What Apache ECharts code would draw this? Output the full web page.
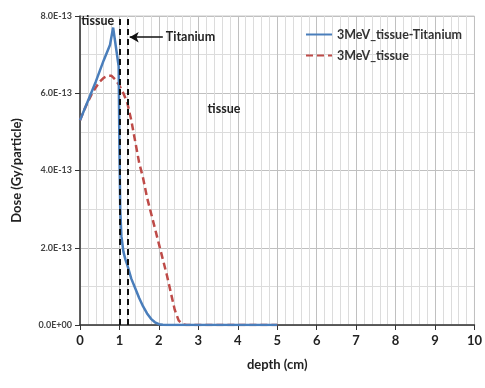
<!DOCTYPE html>
<html><head><meta charset="utf-8">
<script src="https://cdn.jsdelivr.net/npm/echarts@6/dist/echarts.min.js"></script>
<style>html,body{margin:0;padding:0;background:#fff}#c{width:485px;height:388px}</style>
</head><body><div id="c"></div>
<script>
// dose values in units of 1E-13 Gy/particle
var seriesNames = ['3MeV_tissue-Titanium', '3MeV_tissue'];
var tiDepth = [0,0.2,0.4,0.6,0.76,0.84,0.98,1.0,1.02,1.05,1.1,1.15,1.2,1.3,1.4,1.5,1.6,1.7,1.8,1.9,2.0,2.1,2.2,2.5,3,4,5];
var tiDose  = [5.3,5.8,6.3,6.85,7.25,7.7,6.7,4.5,3.0,2.3,1.9,1.7,1.55,1.2,0.95,0.7,0.48,0.3,0.16,0.07,0.02,0.005,0,0,0,0,0];
var tsDepth = [0,0.1,0.2,0.3,0.4,0.5,0.6,0.7,0.8,0.9,1.0,1.1,1.2,1.3,1.4,1.5,1.6,1.7,1.8,1.9,2.0,2.1,2.2,2.3,2.4,2.5,2.6,2.7,3,4,5];
var tsDose  = [5.3,5.55,5.78,5.98,6.15,6.3,6.4,6.45,6.45,6.35,6.2,6.0,5.75,5.3,4.75,4.2,3.8,3.3,2.9,2.5,2.1,1.7,1.3,0.85,0.4,0.12,0.02,0,0,0,0];
var interfaces = [1.0, 1.2];
var annotations = [
  {text:'tissue', x:0.45, y:7.88},
  {text:'tissue', x:3.65, y:5.6}
];
var titaniumLabel = {text:'Titanium', x:2.8, y:7.45};
var arrow = {from:[1.26,7.45], to:[2.1,7.45]};

function pairs(a,b){return a.map(function(v,i){return [v,b[i]];});}
var fam = 'Lato, "Open Sans", sans-serif';
var chart = echarts.init(document.getElementById('c'), null, {renderer:'canvas'});
chart.setOption({
  animation:false,
  backgroundColor:'#fff',
  grid:{left:80, right:10, top:16, bottom:63, show:true, borderColor:'#c8c8c8', borderWidth:1},
  legend:{
    orient:'vertical', left:300, top:23, itemWidth:26, itemHeight:12, itemGap:8,
    itemStyle:{opacity:0},
    textStyle:{fontFamily:fam, fontWeight:'bold', fontSize:12.5, color:'#333'},
    data:seriesNames
  },
  xAxis:{
    type:'value', min:0, max:10, interval:1,
    name:'depth (cm)', nameLocation:'middle', nameGap:33,
    nameTextStyle:{fontFamily:fam, fontWeight:'bold', fontSize:13, color:'#222'},
    axisLine:{show:true, onZero:false, lineStyle:{color:'#333', width:1.5}},
    axisTick:{show:true, length:5, lineStyle:{color:'#333'}},
    axisLabel:{fontFamily:fam, fontWeight:'bold', fontSize:13, color:'#222', margin:9},
    splitLine:{show:true, lineStyle:{color:'#c0c0c0', width:1}},
    minorTick:{show:false, splitNumber:5},
    minorSplitLine:{show:true, lineStyle:{color:'#dcdcdc', width:1}}
  },
  yAxis:{
    type:'value', min:0, max:8, interval:2,
    name:'Dose (Gy/particle)', nameLocation:'middle', nameGap:57,
    nameTextStyle:{fontFamily:fam, fontWeight:'bold', fontSize:13, color:'#222'},
    axisLine:{show:true, lineStyle:{color:'#333', width:1.5}},
    axisTick:{show:true, length:5, lineStyle:{color:'#333'}},
    axisLabel:{fontFamily:fam, fontWeight:'bold', fontSize:9, color:'#444', margin:8,
      formatter:function(v){ return v===0 ? '0.0E+00' : v.toFixed(1)+'E-13'; }},
    splitLine:{show:true, lineStyle:{color:'#c0c0c0', width:1}},
    minorTick:{show:false, splitNumber:2},
    minorSplitLine:{show:true, lineStyle:{color:'#dcdcdc', width:1}}
  },
  series:[
    {
      name:seriesNames[0], type:'line', data:pairs(tiDepth,tiDose), showSymbol:false, symbol:'none',
      lineStyle:{color:'#4a7ebb', width:2.5}, itemStyle:{color:'#4a7ebb'}, z:3,
      markLine:{
        silent:true, symbol:['none','none'], label:{show:false},
        lineStyle:{color:'#111', type:[6,4], width:2},
        data:interfaces.map(function(v){return {xAxis:v};})
      }
    },
    {
      name:seriesNames[1], type:'line', data:pairs(tsDepth,tsDose), showSymbol:false, symbol:'none',
      lineStyle:{color:'#be4b48', width:2.5, type:[7,4]}, itemStyle:{color:'#be4b48'}, z:2,
      markLine:{
        silent:true, symbol:['arrow','none'], symbolSize:[8,9], label:{show:false},
        lineStyle:{color:'#111', type:'solid', width:1.5},
        data:[[{coord:arrow.from},{coord:arrow.to}]]
      },
      markPoint:{
        silent:true, symbol:'circle', symbolSize:0,
        label:{show:true, position:'inside', fontFamily:fam, fontWeight:'bold', fontSize:12.5, color:'#222'},
        data:annotations.concat([titaniumLabel]).map(function(a){
          return {coord:[a.x,a.y], value:a.text, label:{formatter:a.text}};
        })
      }
    }
  ]
});
</script></body></html>
